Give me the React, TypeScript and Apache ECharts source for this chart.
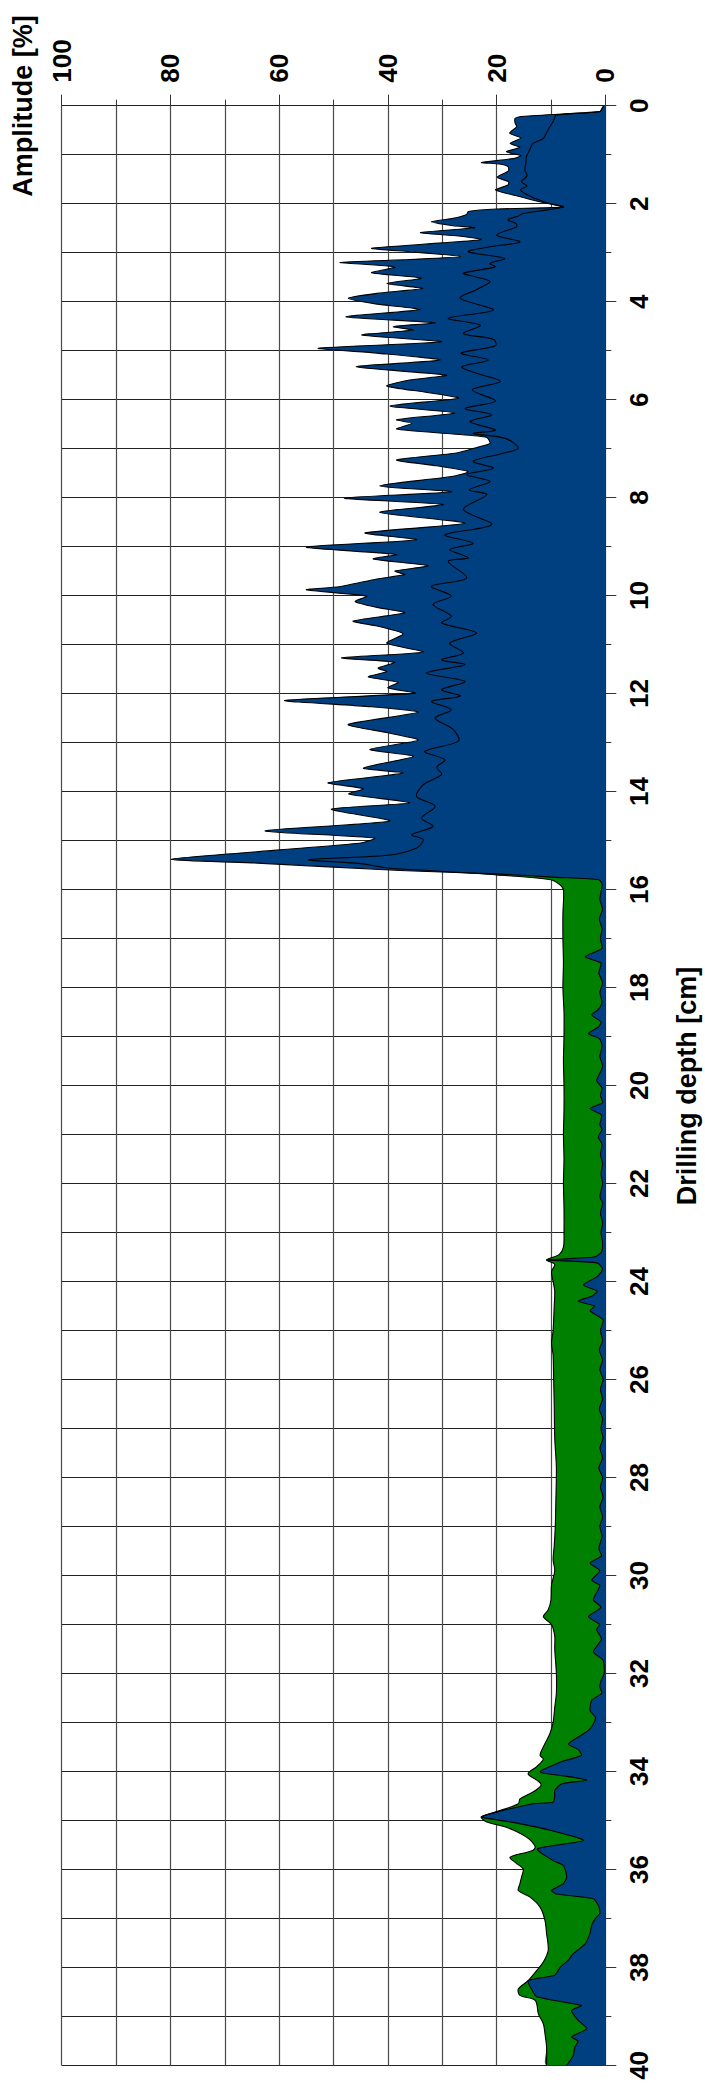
import React, { useEffect, useRef } from "react";
import * as echarts from "echarts";

// Drilling depth [cm] vs amplitude [%]
const blueTop: number[][] = [
  [0, 0.3], [0.05, 0.6], [0.12, 1.0], [0.22, 15.5], [0.26, 16.6], [0.35, 16.6], [0.43, 16.3],
  [0.56, 17.6], [0.66, 15.5], [0.77, 17.5], [0.85, 15.7], [0.94, 18.2], [1.02, 15.5], [1.08, 17],
  [1.16, 22.8], [1.19, 19.5], [1.24, 17.9], [1.33, 17.8], [1.46, 19.9], [1.55, 17.8], [1.62, 17.9],
  [1.72, 20.2], [1.85, 16], [1.95, 12.5], [2.02, 9.5], [2.07, 7.7], [2.11, 20], [2.16, 25.2],
  [2.22, 25.5], [2.3, 28], [2.37, 32], [2.45, 28], [2.49, 24], [2.59, 34], [2.66, 27], [2.73, 22.8],
  [2.8, 30], [2.91, 43], [2.98, 36], [3.08, 26.4], [3.14, 36], [3.2, 48.8], [3.27, 40], [3.3, 38.7],
  [3.41, 43], [3.52, 33.8], [3.63, 40.2], [3.73, 33.6], [3.83, 42], [3.93, 47.3], [4.05, 42],
  [4.16, 34.1], [4.31, 47.7], [4.43, 31.3], [4.51, 39], [4.58, 35.3], [4.68, 44.8], [4.82, 30.1],
  [4.95, 52.8], [5.05, 42], [5.19, 30.4], [5.33, 45.8], [5.5, 29.2], [5.6, 36], [5.72, 40.2],
  [5.85, 33], [5.97, 27], [6.13, 39.6], [6.27, 27.7], [6.41, 38.4], [6.48, 35.6], [6.6, 38.4],
  [6.7, 28], [6.77, 21.8], [6.89, 21.2], [6.97, 23.5], [7.09, 27.4], [7.23, 38.4], [7.35, 31],
  [7.47, 25.2], [7.57, 28.3], [7.76, 41.5], [7.88, 28.3], [8.01, 48], [8.14, 29.8], [8.3, 41.5],
  [8.52, 25.8], [8.72, 44.2], [8.86, 34.7], [9.01, 55], [9.16, 38.4], [9.25, 42.7], [9.39, 32.6],
  [9.5, 38.7], [9.57, 36.9], [9.66, 42], [9.82, 49], [9.88, 55], [10.01, 43.9], [10.12, 46],
  [10.24, 42], [10.35, 36.9], [10.52, 46.4], [10.62, 42], [10.78, 37.2], [10.97, 40.2],
  [11.15, 33.5], [11.27, 48.5], [11.36, 38.7], [11.48, 41.8], [11.55, 40.2], [11.66, 43.6],
  [11.77, 38.1], [11.88, 40], [11.99, 35], [12.14, 59], [12.26, 44], [12.38, 34.4], [12.63, 47.3],
  [12.8, 40], [12.95, 34.4], [13.14, 43.3], [13.28, 35.3], [13.52, 44.5], [13.62, 37.2], [13.82, 51],
  [13.94, 44.5], [14.05, 47.2], [14.23, 36], [14.36, 50.4], [14.6, 39.6], [14.8, 62.6], [14.95, 42.4],
  [15.05, 45], [15.19, 59.8], [15.38, 79.8], [15.46, 64], [15.61, 37.8], [15.68, 20], [15.75, 9],
  [15.8, 1.2], [15.88, 0.6],
];

const blueBottom: number[][] = [
  [16.0, 0.7], [16.2, 1.0], [16.4, 0.5], [16.6, 1.1], [16.8, 0.6], [17.0, 0.9], [17.2, 0.6],
  [17.37, 3.7], [17.5, 0.8], [17.7, 1.2], [17.9, 0.5], [18.1, 1.0], [18.3, 0.6], [18.45, 1.3],
  [18.56, 2.5], [18.7, 0.8], [18.8, 1.2], [18.94, 3.1], [19.05, 1.0], [19.2, 0.6], [19.4, 1.0],
  [19.6, 0.5], [19.75, 1.0], [19.9, 1.6], [20.05, 0.6], [20.2, 0.9], [20.35, 0.5], [20.47, 2.8],
  [20.6, 0.7], [20.8, 1.0], [20.9, 0.6], [21.05, 1.3], [21.2, 0.6], [21.4, 0.9], [21.6, 0.5],
  [21.8, 0.8], [22.0, 0.5], [22.27, 1.0], [22.4, 0.5], [22.6, 0.9], [22.8, 0.5], [23.0, 0.8],
  [23.2, 0.5], [23.4, 0.7], [23.5, 2], [23.56, 10.8], [23.62, 1.5], [23.75, 0.5], [23.9, 1.5],
  [24.07, 4.0], [24.2, 1.5], [24.3, 2.5], [24.4, 5.0], [24.5, 2.0], [24.6, 2.8], [24.78, 0.4],
  [25.0, 0.9], [25.2, 0.5], [25.4, 1.1], [25.6, 0.5], [25.8, 1.0], [26.0, 0.4], [26.2, 0.9],
  [26.4, 0.5], [26.6, 1.1], [26.8, 0.5], [27.0, 0.8], [27.2, 0.4], [27.4, 1.0], [27.6, 0.5],
  [27.8, 1.2], [28.0, 0.5], [28.2, 0.9], [28.4, 0.4], [28.6, 1.0], [28.8, 0.5], [29.0, 1.0],
  [29.2, 0.6], [29.45, 1.2], [29.6, 0.7], [29.75, 2.8], [29.9, 1.0], [30.1, 2.5], [30.2, 1.0],
  [30.35, 1.6], [30.5, 2.2], [30.65, 0.8], [30.84, 3.1], [31.0, 1.0], [31.1, 1.6], [31.3, 0.7],
  [31.56, 2.2], [31.73, 0.4], [32.0, 0.2], [32.15, 0.8], [32.28, 1.0], [32.4, 0.6], [32.55, 2.5],
  [32.76, 2.8], [32.9, 1.8], [33.03, 2.2], [33.15, 3.0], [33.23, 4.0], [33.44, 6.8], [33.55, 5],
  [33.67, 4.4], [33.81, 8.3], [34.01, 12], [34.1, 7], [34.18, 3.4], [34.25, 8], [34.39, 9.3],
  [34.5, 9.3], [34.63, 9.6], [34.66, 13.3], [34.83, 20], [34.93, 22.8], [35.03, 17.5], [35.2, 10.2],
  [35.41, 4], [35.58, 12.5], [35.82, 9.6], [35.92, 7.7], [36.16, 7.1], [36.29, 7.7], [36.43, 9.9],
  [36.5, 9], [36.6, 2.2], [36.75, 1.2], [36.9, 1], [37.0, 1.8], [37.14, 2.5], [37.3, 2.8],
  [37.52, 3.7], [37.72, 5.9], [37.85, 6.8], [38.0, 8.3], [38.16, 9.3], [38.27, 14.2], [38.44, 13.6],
  [38.6, 12.6], [38.78, 4.4], [38.88, 6.2], [39.08, 5], [39.25, 3.4], [39.42, 6.2], [39.5, 5.0],
  [39.63, 5.6], [39.8, 5.9], [40.0, 7.1],
];

const greenTop: number[][] = [
  [0, 0.3], [0.12, 1], [0.19, 9], [0.3, 9.5], [0.43, 10.2], [0.55, 10.8], [0.67, 11.4], [0.77, 13.3],
  [0.9, 13.9], [1.04, 14.5], [1.17, 14.6], [1.31, 14.8], [1.43, 14.4], [1.55, 15.4], [1.64, 14.4],
  [1.72, 15.6], [1.86, 13.6], [1.98, 10.8], [2.07, 7.8], [2.2, 15.1], [2.25, 16], [2.33, 17.9],
  [2.4, 16.5], [2.47, 16.3], [2.64, 20], [2.78, 15.7], [2.88, 21.2], [2.98, 25.2], [3.12, 18.5],
  [3.22, 21.2], [3.29, 20.3], [3.42, 26.1], [3.5, 23.6], [3.59, 21.2], [3.75, 23.6], [3.93, 26.7],
  [4.17, 20.6], [4.34, 28.9], [4.48, 23], [4.65, 26.1], [4.77, 20.5], [4.9, 20.2], [5.05, 26.5],
  [5.19, 21.5], [5.33, 26.4], [5.45, 24], [5.63, 19.3], [5.8, 24.5], [6.03, 20.2], [6.18, 25.8],
  [6.31, 20.9], [6.45, 24.9], [6.62, 20.2], [6.69, 24.3], [6.79, 18.4], [6.99, 16], [7.1, 19],
  [7.26, 24.3], [7.4, 20.6], [7.53, 25.5], [7.67, 21.2], [7.84, 25.0], [7.94, 21.8], [8.24, 26.1],
  [8.55, 20.9], [8.76, 29.5], [8.93, 24.3], [9.06, 28.6], [9.23, 25.2], [9.3, 28.9], [9.64, 25.5],
  [9.81, 32], [10.01, 28.3], [10.18, 31.7], [10.42, 28.3], [10.56, 30.1], [10.76, 23.7],
  [10.97, 28.6], [11.17, 26.1], [11.31, 30.1], [11.41, 25.8], [11.58, 32.9], [11.75, 25.8],
  [11.92, 30.1], [12.05, 26.7], [12.16, 32], [12.33, 28.3], [12.5, 31.3], [12.73, 28], [12.97, 27],
  [13.18, 33.2], [13.35, 29.5], [13.5, 31], [13.65, 30.1], [13.86, 33.5], [14.1, 34.7], [14.3, 31.3],
  [14.54, 33.8], [14.71, 31.7], [14.88, 35.6], [14.98, 33.5], [15.15, 34.7], [15.3, 40], [15.39, 54.6],
  [15.47, 45], [15.56, 40], [15.62, 31], [15.7, 20], [15.8, 10], [15.9, 8.4], [16.0, 7.7],
];

const greenBottom: number[][] = [
  [16.5, 7.8], [17.0, 7.8], [17.5, 7.7], [18.0, 7.8], [18.5, 7.6], [19.0, 7.6], [19.5, 7.7],
  [20.0, 7.6], [20.5, 7.6], [21.0, 7.7], [21.5, 7.6], [22.0, 7.7], [22.5, 7.6], [23.0, 7.6],
  [23.3, 7.7], [23.45, 8.5], [23.56, 10.8], [23.65, 9.3], [23.8, 9.9], [24.0, 9.6], [24.2, 9.3],
  [24.5, 9.4], [25.0, 9.6], [25.26, 9.9], [25.5, 9.6], [26.0, 9.5], [26.5, 9.4], [27.2, 9.3],
  [27.8, 9.0], [28.5, 9.1], [29.0, 9.2], [29.4, 9.4], [29.68, 9.6], [29.9, 9.3], [30.2, 9.9],
  [30.5, 10.0], [30.7, 10.5], [30.84, 11.4], [31.0, 9.9], [31.24, 9.3], [31.5, 9.3], [32.0, 9.0],
  [32.4, 9.0], [32.69, 9.3], [33.0, 9.6], [33.23, 10.2], [33.5, 11.4], [33.67, 12.0], [33.75, 11.4],
  [33.9, 12.6], [34.05, 14.2], [34.2, 12.3], [34.28, 11.8], [34.42, 13.3], [34.56, 15.7], [34.66, 16],
  [34.8, 19.4], [34.93, 22.8], [35.03, 21.8], [35.14, 18.2], [35.34, 14.5], [35.54, 12.9],
  [35.62, 13.5], [35.75, 17.5], [35.88, 16.3], [35.99, 15.1], [36.15, 15.4], [36.29, 15.7],
  [36.43, 16], [36.56, 13.9], [36.77, 12], [37.04, 11.1], [37.31, 10.8], [37.65, 10.5], [37.89, 11.4],
  [38.06, 12.6], [38.27, 14.2], [38.44, 16], [38.57, 15.7], [38.67, 12.9], [38.95, 12.3],
  [39.15, 11.4], [39.35, 11.1], [39.63, 10.8], [40.0, 10.8],
];

const blueCurve = blueTop.concat(blueBottom);
const greenCurve = greenTop.concat(greenBottom);

const BLUE = "#004080";
const GREEN = "#008000";
const FONT = 'Arial, "Liberation Sans", Helvetica, sans-serif';

function curveSeries(curve: number[][], kind: "fill" | "line", color: string, smooth: number) {
  return {
    type: "custom",
    clip: true,
    silent: true,
    data: curve.map((p) => [p[1], p[0]]),
    encode: { x: 0, y: 1 },
    renderItem: (params: any, api: any) => {
      if (params.dataIndex !== 0) return null;
      const pts = curve.map((p) => api.coord([p[1], p[0]]));
      const cs = params.coordSys;
      const constraint = [
        [cs.x, cs.y],
        [cs.x + cs.width, cs.y + cs.height],
      ];
      if (kind === "fill") {
        const first = api.coord([0, curve[0][0]]);
        const last = api.coord([0, curve[curve.length - 1][0]]);
        return {
          type: "polygon",
          shape: { points: [first, ...pts, last], smooth, smoothConstraint: constraint },
          style: { fill: color, stroke: null },
        };
      }
      return {
        type: "polyline",
        shape: { points: pts, smooth, smoothConstraint: constraint },
        style: { fill: null, stroke: "#000", lineWidth: 1.1 },
      };
    },
  };
}

export default function App() {
  const ref = useRef<HTMLDivElement>(null);
  useEffect(() => {
    if (!ref.current) return;
    const chart = echarts.init(ref.current, null, { renderer: "svg" });
    const labelStyle = { fontFamily: FONT, fontWeight: "bold", fontSize: 26, color: "#000" };
    chart.setOption({
      animation: false,
      backgroundColor: "#fff",
      grid: { left: 61.7, top: 105.7, right: 99.7, bottom: 23.6, containLabel: false },
      xAxis: {
        type: "value",
        min: 0,
        max: 100,
        interval: 20,
        inverse: true,
        position: "top",
        axisLine: { show: true, lineStyle: { color: "#222", width: 1 } },
        axisTick: { show: true, length: 11, lineStyle: { color: "#333", width: 1 } },
        minorTick: { show: true, splitNumber: 2, length: 6, lineStyle: { color: "#333", width: 1 } },
        splitLine: { show: true, lineStyle: { color: "#4a4a4a", width: 1.2 } },
        minorSplitLine: { show: true, lineStyle: { color: "#4a4a4a", width: 1.2 } },
        axisLabel: { ...labelStyle, rotate: 90, margin: 23 },
      },
      yAxis: {
        type: "value",
        min: 0,
        max: 40,
        interval: 2,
        inverse: true,
        position: "right",
        axisLine: { show: true, lineStyle: { color: "#222", width: 1 } },
        axisTick: { show: true, length: 11, lineStyle: { color: "#333", width: 1 } },
        minorTick: { show: true, splitNumber: 2, length: 6, lineStyle: { color: "#333", width: 1 } },
        splitLine: { show: true, lineStyle: { color: "#222", width: 1 } },
        minorSplitLine: { show: true, lineStyle: { color: "#222", width: 1 } },
        axisLabel: { ...labelStyle, rotate: 90, margin: 21 },
      },
      graphic: [
        {
          type: "text",
          x: 23,
          y: 106,
          rotation: Math.PI / 2,
          style: {
            text: "Amplitude [%]",
            font: `bold 27px ${FONT}`,
            fill: "#000",
            align: "center",
            verticalAlign: "middle",
            textAlign: "center",
            textVerticalAlign: "middle",
          },
        },
        {
          type: "text",
          x: 687,
          y: 1086,
          rotation: Math.PI / 2,
          style: {
            text: "Drilling depth [cm]",
            font: `bold 27px ${FONT}`,
            fill: "#000",
            align: "center",
            verticalAlign: "middle",
            textAlign: "center",
            textVerticalAlign: "middle",
          },
        },
      ],
      series: [
        curveSeries(greenCurve, "fill", GREEN, 0.3),
        curveSeries(blueCurve, "fill", BLUE, 0.2),
        curveSeries(greenCurve, "line", GREEN, 0.3),
        curveSeries(blueCurve, "line", BLUE, 0.2),
      ],
    });
    return () => chart.dispose();
  }, []);
  return (
    <div
      ref={ref}
      style={{ position: "absolute", left: 0, top: 0, width: 705, height: 2089 }}
    />
  );
}
